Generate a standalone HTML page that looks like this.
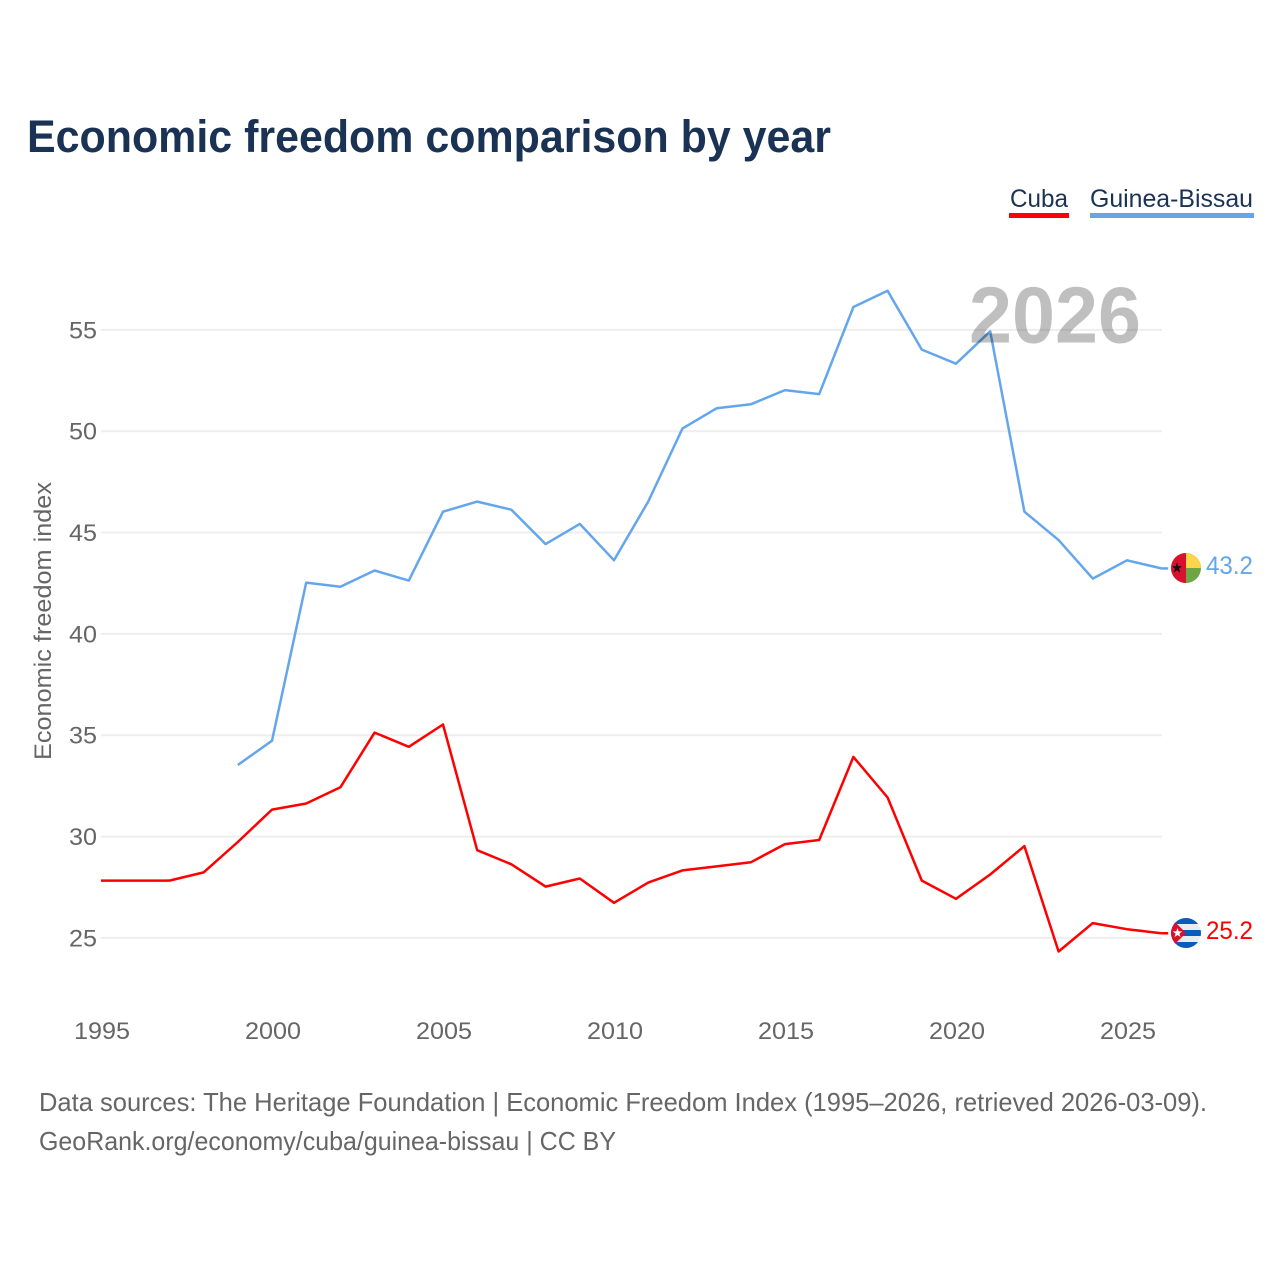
<!DOCTYPE html>
<html lang="en">
<head>
<meta charset="utf-8">
<title>Economic freedom comparison by year</title>
<style>
html,body{margin:0;padding:0;background:#fff;}
svg{display:block;}
text{font-family:"Liberation Sans",sans-serif;}
</style>
</head>
<body>
<svg id="chart" xmlns="http://www.w3.org/2000/svg" width="1280" height="1280" viewBox="0 0 1280 1280">
  <defs>
    <clipPath id="clip-gw"><circle cx="1186" cy="568" r="15"/></clipPath>
    <clipPath id="clip-cu"><circle cx="1186" cy="933" r="15"/></clipPath>
  </defs>
  <rect x="0" y="0" width="1280" height="1280" fill="#fff"/>
  <text x="27" y="152" font-size="45" font-weight="700" fill="#1a3254" textLength="804" lengthAdjust="spacingAndGlyphs">Economic freedom comparison by year</text>

  <g>
    <text x="1010" y="207" font-size="25" fill="#1a3254" textLength="58" lengthAdjust="spacingAndGlyphs">Cuba</text>
    <rect x="1009" y="213" width="60" height="5" fill="#ff0000"/>
  </g>
  <g>
    <text x="1090" y="207" font-size="25" fill="#1a3254" textLength="163" lengthAdjust="spacingAndGlyphs">Guinea-Bissau</text>
    <rect x="1090" y="213" width="164" height="5" fill="#64a6ec"/>
  </g>

  <g id="grid"></g>
  <g id="yticks"></g>
  <g id="xticks"></g>
  <text transform="translate(51,621) rotate(-90)" text-anchor="middle" font-size="24" fill="#666" textLength="278" lengthAdjust="spacingAndGlyphs">Economic freedom index</text>
  <g id="series"></g>
  <text x="969" y="342.5" font-size="80" font-weight="700" fill="#000" fill-opacity="0.25" textLength="172" lengthAdjust="spacingAndGlyphs">2026</text>

  <g clip-path="url(#clip-gw)">
    <rect x="1171" y="553" width="30" height="30" fill="#6fa544"/>
    <rect x="1171" y="553" width="30" height="15" fill="#fcd64a"/>
    <rect x="1171" y="553" width="15" height="30" fill="#d8112f"/>
    <polygon points="1177,562.5 1178.3,566.3 1182,566.3 1179,568.7 1180.2,572.5 1177,570.2 1173.8,572.5 1175,568.7 1172,566.3 1175.7,566.3" fill="#111"/>
  </g>
  <g clip-path="url(#clip-cu)">
    <rect x="1171" y="918" width="30" height="30" fill="#e9edf2"/>
    <rect x="1171" y="918" width="30" height="6" fill="#0a5cb8"/>
    <rect x="1171" y="930" width="30" height="6" fill="#0a5cb8"/>
    <rect x="1171" y="942" width="30" height="6" fill="#0a5cb8"/>
    <polygon points="1171,918 1171,948 1186,933" fill="#d8112f"/>
    <polygon points="1177.5,928 1178.7,931.4 1182.3,931.4 1179.4,933.6 1180.5,937 1177.5,935 1174.5,937 1175.6,933.6 1172.7,931.4 1176.3,931.4" fill="#fff"/>
  </g>

  <text id="end-gw" x="1206" y="574" font-size="25" fill="#64a6ec" textLength="47" lengthAdjust="spacingAndGlyphs"></text>
  <text id="end-cu" x="1206" y="939" font-size="25" fill="#ff0000" textLength="47" lengthAdjust="spacingAndGlyphs"></text>

  <text x="39" y="1111" font-size="26" fill="#666" textLength="1168" lengthAdjust="spacingAndGlyphs">Data sources: The Heritage Foundation | Economic Freedom Index (1995–2026, retrieved 2026-03-09).</text>
  <text x="39" y="1150" font-size="26" fill="#666" textLength="577" lengthAdjust="spacingAndGlyphs">GeoRank.org/economy/cuba/guinea-bissau | CC BY</text>
</svg>
<script>
const years = [1995,1996,1997,1998,1999,2000,2001,2002,2003,2004,2005,2006,2007,2008,2009,2010,2011,2012,2013,2014,2015,2016,2017,2018,2019,2020,2021,2022,2023,2024,2025,2026];
const cubaValues = [27.8,27.8,27.8,28.2,29.7,31.3,31.6,32.4,35.1,34.4,35.5,29.3,28.6,27.5,27.9,26.7,27.7,28.3,28.5,28.7,29.6,29.8,33.9,31.9,27.8,26.9,28.1,29.5,24.3,25.7,25.4,25.2];
const guineaBissauValues = [null,null,null,null,33.5,34.7,42.5,42.3,43.1,42.6,46.0,46.5,46.1,44.4,45.4,43.6,46.5,50.1,51.1,51.3,52.0,51.8,56.1,56.9,54.0,53.3,54.9,46.0,44.6,42.7,43.6,43.2];
const yTickValues = [25,30,35,40,45,50,55];
const xTickValues = [1995,2000,2005,2010,2015,2020,2025];

const NS = 'http://www.w3.org/2000/svg';
function xScale(year) { return 101 + (year - 1995) * 34.2; }
function yScale(value) { return 937.3 - (value - 25) * 20.267; }

const grid = document.getElementById('grid');
const yticks = document.getElementById('yticks');
const xticks = document.getElementById('xticks');
const series = document.getElementById('series');

yTickValues.forEach(function (v) {
  const line = document.createElementNS(NS, 'line');
  
  
  line.setAttribute('x1', 101);
  line.setAttribute('x2', 1162);
  line.setAttribute('y1', yScale(v) + 0.6);
  line.setAttribute('y2', yScale(v) + 0.6);
  line.setAttribute('stroke', '#eeeeee');
  line.setAttribute('stroke-width', 2);
  grid.appendChild(line);

  const label = document.createElementNS(NS, 'text');
  
  
  label.setAttribute('x', 69);
  label.setAttribute('y', yScale(v) + 9);
  label.setAttribute('font-size', 24);
  label.setAttribute('fill', '#666');
  label.setAttribute('textLength', 28);
  label.setAttribute('lengthAdjust', 'spacingAndGlyphs');
  label.textContent = String(v);
  yticks.appendChild(label);
});

xTickValues.forEach(function (v) {
  const label = document.createElementNS(NS, 'text');
  
  
  label.setAttribute('x', xScale(v) - 27);
  label.setAttribute('y', 1039);
  label.setAttribute('font-size', 24);
  label.setAttribute('fill', '#666');
  label.setAttribute('textLength', 56);
  label.setAttribute('lengthAdjust', 'spacingAndGlyphs');
  label.textContent = String(v);
  xticks.appendChild(label);
});

function drawSeries(values, color, name) {
  let d = '';
  let lastX = 0, lastY = 0;
  values.forEach(function (v, i) {
    if (v === null) return;
    lastX = xScale(years[i]);
    lastY = yScale(v);
    d += (d ? 'L' : 'M') + lastX.toFixed(1) + ' ' + lastY.toFixed(1);
  });
  const path = document.createElementNS(NS, 'path');
  
  
  path.setAttribute('d', d);
  path.setAttribute('fill', 'none');
  path.setAttribute('stroke', color);
  path.setAttribute('stroke-width', 2.5);
  path.setAttribute('stroke-linejoin', 'round');
  series.appendChild(path);

  const leader = document.createElementNS(NS, 'line');
  
  
  leader.setAttribute('x1', lastX);
  leader.setAttribute('y1', lastY);
  leader.setAttribute('x2', lastX + 7);
  leader.setAttribute('y2', lastY);
  leader.setAttribute('stroke', color);
  leader.setAttribute('stroke-width', 2.5);
  series.appendChild(leader);
}

drawSeries(guineaBissauValues, '#64a6ec', 'line-guinea-bissau');
drawSeries(cubaValues, '#ff0000', 'line-cuba');

document.getElementById('end-gw').textContent = guineaBissauValues[guineaBissauValues.length - 1].toFixed(1);
document.getElementById('end-cu').textContent = cubaValues[cubaValues.length - 1].toFixed(1);
</script>
</body>
</html>
